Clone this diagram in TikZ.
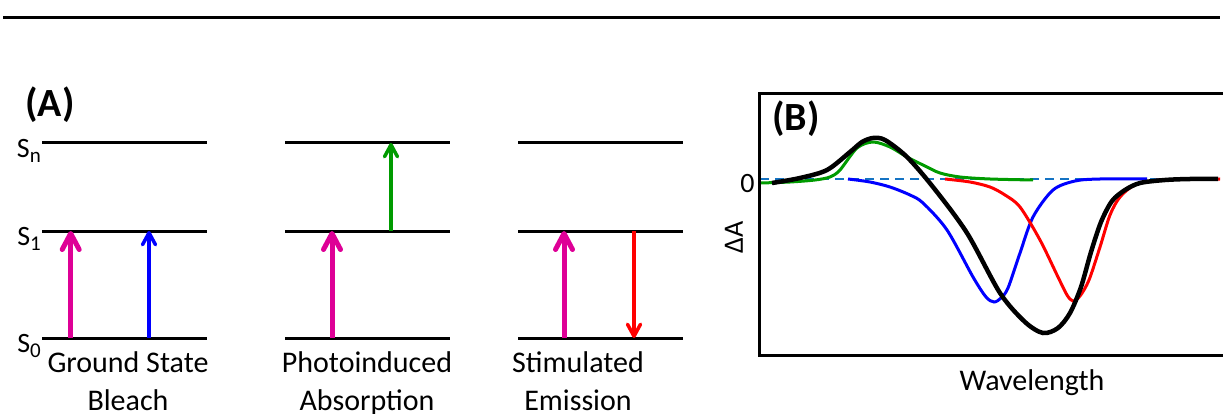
\documentclass[tikz,border=0pt]{standalone}
\usepackage{fontspec}
\setmainfont{Carlito}
\usetikzlibrary{arrows.meta}
\definecolor{mag}{RGB}{222,0,150}
\definecolor{grn}{RGB}{0,155,0}
\definecolor{zeroblue}{RGB}{20,115,195}
\newcommand{\sublab}[1]{S\raisebox{-5pt}{\fontsize{21}{21}\selectfont #1}}
\begin{document}
\begin{tikzpicture}[x=1pt,y=-1pt,
  level/.style={line width=3pt},
  pump/.style={draw=mag,line width=5pt,-{Straight Barb[length=16pt,width=17pt,round]}},
  probe/.style={line width=3.5pt,-{Straight Barb[length=12pt,width=13pt,round]}},
  lbl/.style={font=\fontsize{30}{38}\selectfont,align=center,inner sep=0pt,anchor=base},
  slab/.style={font=\fontsize{28}{28}\selectfont,anchor=base east,inner sep=0pt},
  curve/.style={line width=3pt},
  bold/.style={font=\fontsize{40}{40}\selectfont\bfseries,inner sep=0pt},
  axlab/.style={font=\fontsize{28}{28}\selectfont,inner sep=0pt}
]
\useasboundingbox (0,0) rectangle (1223,414);
% top rule
\coordinate (r1) at (3,17.5);
\coordinate (r2) at (1220,17.5);
\draw[line width=2.5pt] (r1) -- (r2);

% ---------- Panel A ----------
\node[bold] (A) at (50,105) {(A)};
\foreach \n/\xa/\xb in {g/42/207, p/285/450, s/518/683}{
  \coordinate (\n n0) at (\xa,143); \coordinate (\n n1) at (\xb,143);
  \coordinate (\n a0) at (\xa,231); \coordinate (\n a1) at (\xb,231);
  \coordinate (\n z0) at (\xa,338); \coordinate (\n z1) at (\xb,338);
  \draw[level] (\n n0) -- (\n n1);
  \draw[level] (\n a0) -- (\n a1);
  \draw[level] (\n z0) -- (\n z1);
}
\node[slab] (Sn) at (41,158) {\sublab{n}};
\node[slab] (S1) at (41,245) {\sublab{1}};
\node[slab] (S0) at (41,352) {\sublab{0}};

% ground state bleach
\coordinate (gm0) at (70.7,338); \coordinate (gm1) at (70.7,231);
\coordinate (gb0) at (149,338);  \coordinate (gb1) at (149,231);
\draw[pump] (gm0) -- (gm1);
\draw[probe,draw=blue] (gb0) -- (gb1);
% photoinduced absorption
\coordinate (pm0) at (332,338); \coordinate (pm1) at (332,231);
\coordinate (pg0) at (391,231); \coordinate (pg1) at (391,143);
\draw[pump] (pm0) -- (pm1);
\draw[probe,draw=grn] (pg0) -- (pg1);
% stimulated emission
\coordinate (sm0) at (564,338); \coordinate (sm1) at (564,231);
\coordinate (sr0) at (634,231); \coordinate (sr1) at (634,338);
\draw[pump] (sm0) -- (sm1);
\draw[probe,draw=red] (sr0) -- (sr1);

\node[lbl] (L1) at (128,410) {Ground State\\Bleach};
\node[lbl] (L2) at (367,410) {Photoinduced\\Absorption};
\node[lbl] (L3) at (578,410) {Stimulated\\Emission};

% ---------- Panel B ----------
\coordinate (f1) at (1223,94);
\coordinate (f2) at (759,94);
\coordinate (f3) at (759,355);
\coordinate (f4) at (1223,355);
\coordinate (z0) at (760,179);
\coordinate (z1) at (1223,179);
\draw[zeroblue,line width=2.5pt,dash pattern=on 9pt off 6pt] (z0) -- (z1);

\draw[curve,grn] plot[smooth] coordinates {(760,183) (790,182) (815,180) (830,177) (840,170) (857,148) (873,142) (890,147) (907,157) (925,166) (940,173) (960,177) (990,179) (1033,180)};
\draw[curve,blue] plot[smooth] coordinates {(848,179) (870,182) (890,187) (910,195) (923,203) (947,230) (973,277) (986,297) (994,302) (1001,298) (1008,288) (1020,253) (1033,217) (1053,190) (1075,181) (1100,179) (1147,179)};
\draw[curve,red] plot[smooth] coordinates {(945,179) (970,182) (990,187) (1005,195) (1020,207) (1040,240) (1058,277) (1067,295) (1073,301) (1080,296) (1089,280) (1100,247) (1110,215) (1120,197) (1135,185) (1160,180) (1220,179)};
\draw[line width=4.5pt,black] plot[smooth] coordinates {(772,183) (800,178) (827,170) (850,152) (862,142) (873,138) (885,140) (907,157) (933,187) (967,233) (1000,293) (1025,322) (1043,333) (1058,328) (1070,313) (1081,287) (1091,252) (1101,222) (1112,201) (1125,190) (1140,183) (1165,180) (1190,179) (1218,179)};

\draw[line width=3pt] (f1) -- (f2) -- (f3) -- (f4);

\node[bold] (B) at (796,119) {(B)};
\node[axlab,anchor=base] (zero) at (747.5,193) {0};
\node[axlab,rotate=90] (dA) at (734,237) {ΔA};
\node[axlab,font=\fontsize{30}{30}\selectfont,anchor=base] (wl) at (1032,390) {Wavelength};
\end{tikzpicture}
\end{document}
